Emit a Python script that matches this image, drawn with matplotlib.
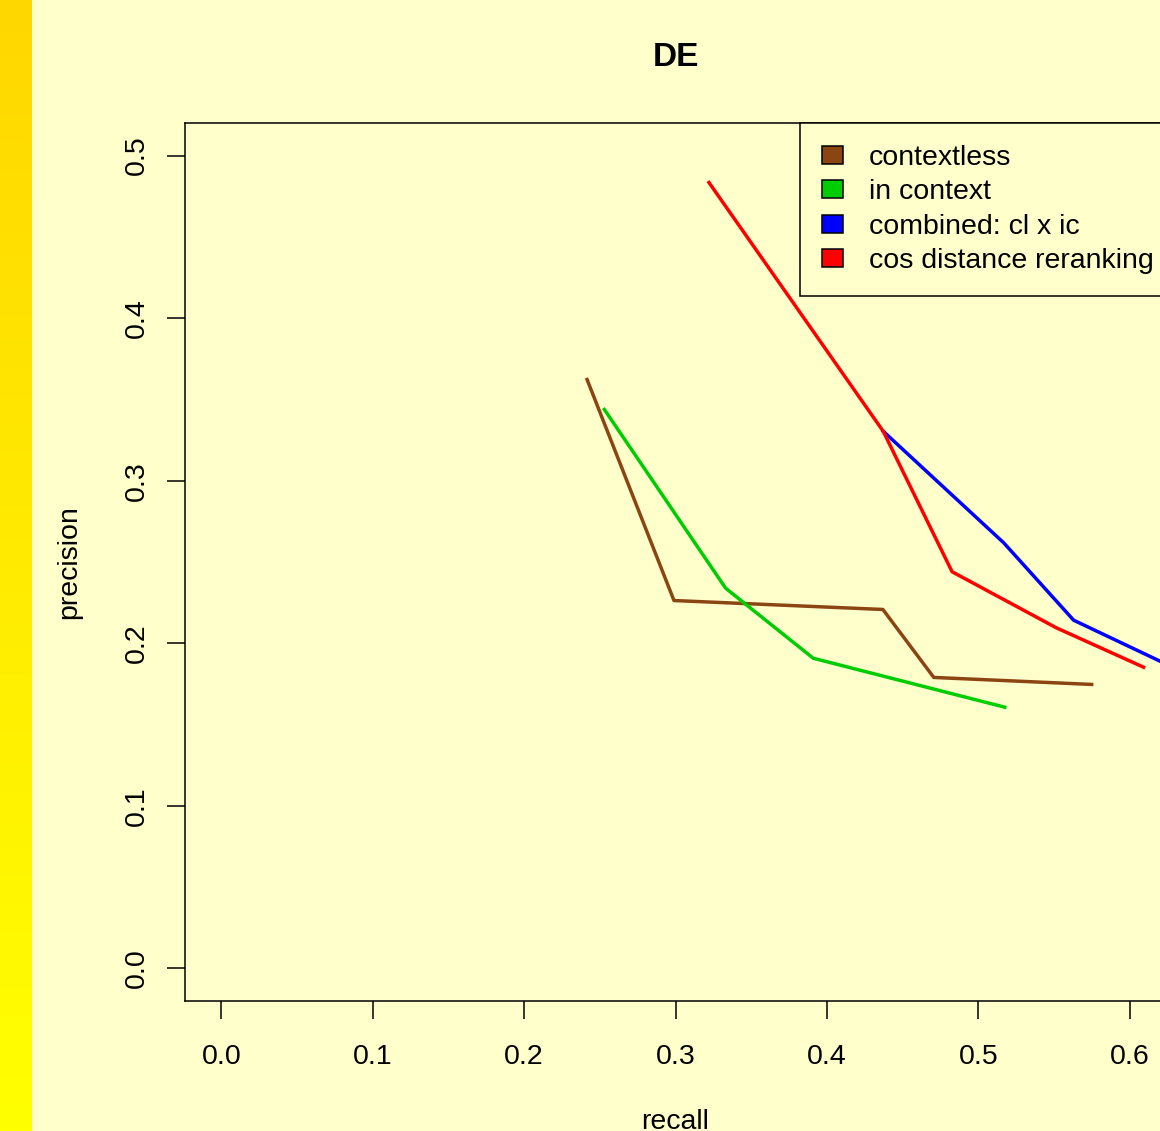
import numpy as np
import matplotlib
matplotlib.use("Agg")
import matplotlib.pyplot as plt
from matplotlib.patches import Patch

plt.rcParams['font.family'] = ['Liberation Sans', 'DejaVu Sans']

# ---- data ----
series_names = ["contextless", "in context", "combined: cl x ic", "cos distance reranking"]
series_colors = ["#8B4513", "#00CD00", "#0000FF", "#FF0000"]

contextless_recall = [0.2416, 0.2990, 0.4370, 0.4706, 0.5749]
contextless_precision = [0.3622, 0.2263, 0.2208, 0.1790, 0.1747]

incontext_recall = [0.2530, 0.3331, 0.3910, 0.5175]
incontext_precision = [0.3438, 0.2339, 0.1908, 0.1607]

combined_recall = [0.4372, 0.5168, 0.5630, 0.6400]
combined_precision = [0.3304, 0.2618, 0.2142, 0.1802]

cosrerank_recall = [0.3221, 0.4372, 0.4827, 0.5516, 0.6092]
cosrerank_precision = [0.4834, 0.3304, 0.2440, 0.2095, 0.1853]

x_ticks = [0.0, 0.1, 0.2, 0.3, 0.4, 0.5, 0.6]
y_ticks = [0.0, 0.1, 0.2, 0.3, 0.4, 0.5]
title = "DE"
xlabel = "recall"
ylabel = "precision"

W, H = 1160, 1131
DPI = 100
BG = "#FFFFCC"
FS = 20.5

fig = plt.figure(figsize=(W / DPI, H / DPI), dpi=DPI, facecolor=BG)

# left gradient strip
strip = fig.add_axes([0, 0, 32 / W, 1])
grad = np.linspace(0, 1, 256).reshape(-1, 1)
top_c = np.array([255, 215, 0]) / 255
bot_c = np.array([255, 255, 0]) / 255
img = top_c[None, None, :] * (1 - grad[:, :, None]) + bot_c[None, None, :] * grad[:, :, None]
strip.imshow(img, aspect='auto', extent=[0, 1, 0, 1], origin='upper')
strip.set_axis_off()

# main axes (right edge extends slightly beyond the image, as in the reference)
left_px, right_px, top_px, bottom_px = 185, 1166, 123, 1001
ax = fig.add_axes([left_px / W, (H - bottom_px) / H,
                   (right_px - left_px) / W, (bottom_px - top_px) / H])
ax.set_facecolor(BG)

lw = 2.5
ax.plot(contextless_recall, contextless_precision, color=series_colors[0], lw=lw)
ax.plot(incontext_recall, incontext_precision, color=series_colors[1], lw=lw)
ax.plot(combined_recall, combined_precision, color=series_colors[2], lw=lw)
ax.plot(cosrerank_recall, cosrerank_precision, color=series_colors[3], lw=lw)

ax.set_xlim(-0.024, 0.624)
ax.set_ylim(-0.02, 0.52)
ax.set_xticks(x_ticks)
ax.set_xticklabels([f"{v:.1f}" for v in x_ticks])
ax.set_yticks(y_ticks)
ax.set_yticklabels([f"{v:.1f}" for v in y_ticks], rotation=90, va='center')

for s in ax.spines.values():
    s.set_linewidth(1.1)
    s.set_color("black")

ax.tick_params(axis='both', direction='out', length=13, width=1.1, labelsize=FS, color='black')
ax.tick_params(axis='x', pad=18)
ax.tick_params(axis='y', pad=12)

ax.set_xlabel(xlabel, fontsize=FS, labelpad=28)
ax.set_ylabel(ylabel, fontsize=FS, labelpad=30)

fig.text((left_px + right_px) / 2 / W, 1 - 57 / H, title, fontsize=24, fontweight='bold',
         ha='center', va='center')

handles = [Patch(facecolor=c, edgecolor='black', linewidth=1.1) for c in series_colors]
axw_px = right_px - left_px
leg = ax.legend(handles, series_names, loc='upper right',
                bbox_to_anchor=(1 + 10 / axw_px, 1),
                borderaxespad=0, fontsize=FS, frameon=True, fancybox=False,
                handlelength=0.74, handleheight=0.6, handletextpad=0.9,
                labelspacing=0.29, borderpad=0.78)
leg.get_frame().set_edgecolor('black')
leg.get_frame().set_facecolor(BG)
leg.get_frame().set_linewidth(1.1)
leg.get_frame().set_alpha(None)

fig.savefig("out.png", dpi=DPI, facecolor=BG)
